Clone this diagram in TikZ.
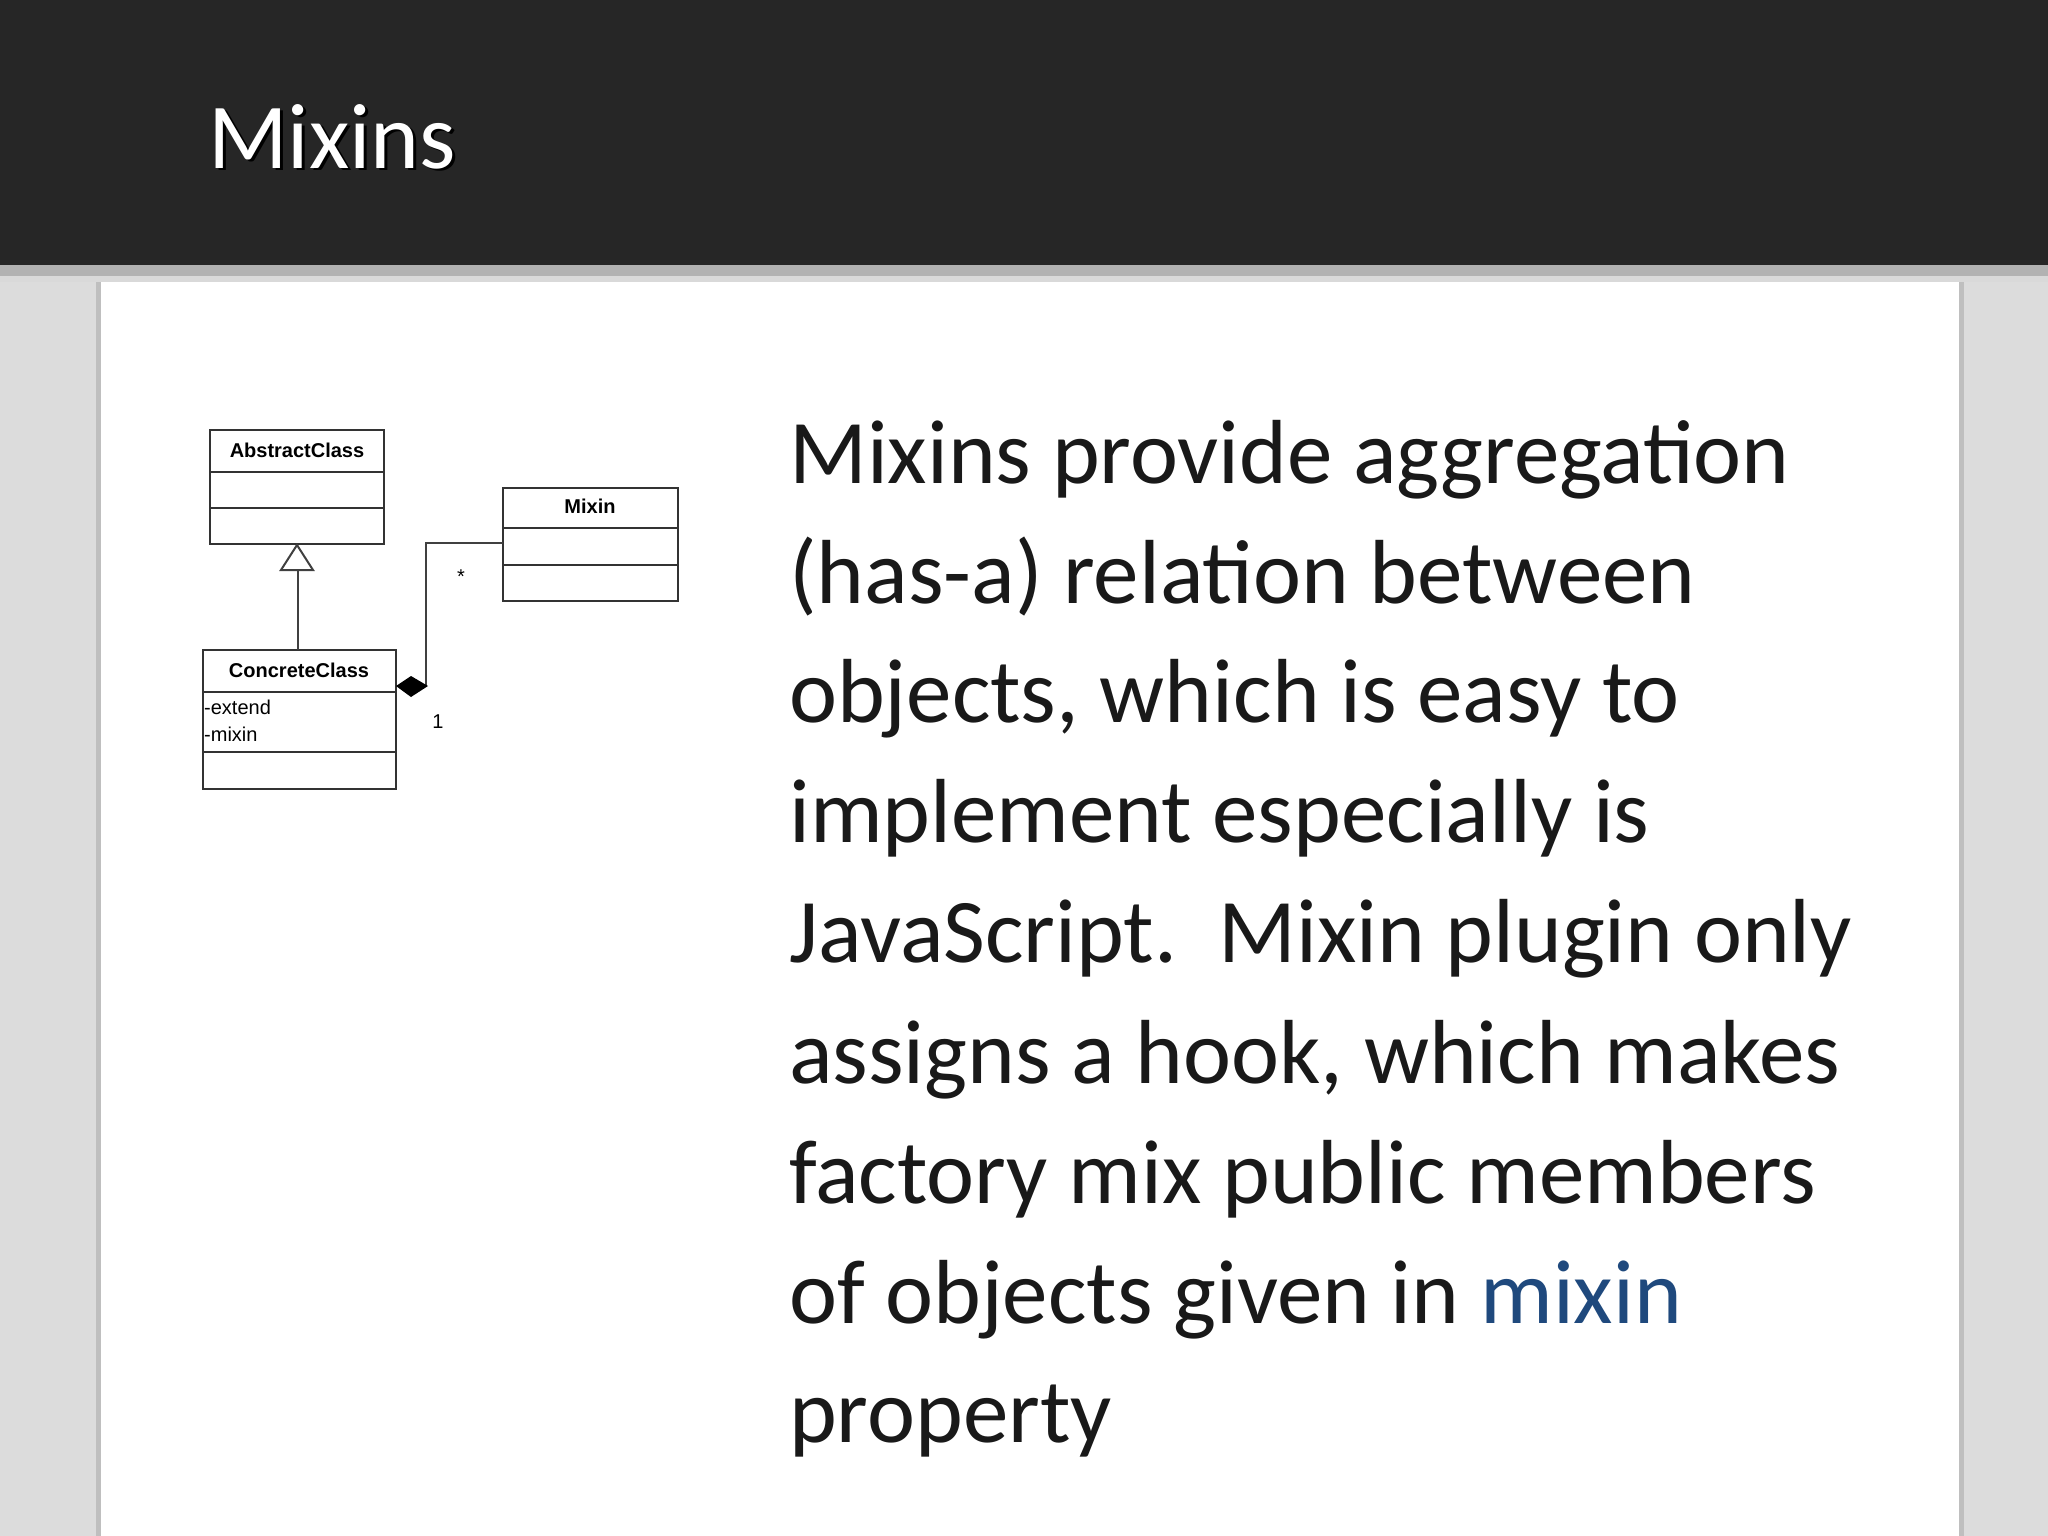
\documentclass[tikz,border=0pt]{standalone}
\usepackage{fontspec}
\setmainfont{Carlito}
\newfontfamily\umlfont{Liberation Sans}
\definecolor{hdr}{HTML}{262626}
\definecolor{bg}{HTML}{DCDCDC}
\definecolor{linkblue}{HTML}{1F497D}
\begin{document}
\begin{tikzpicture}[x=1pt,y=-1pt,
  body/.style={anchor=base west,inner sep=0,font=\fontsize{91}{100}\selectfont,text=black!90},
  umlbox/.style={draw=black!80,line width=2.2pt},
  umlt/.style={font=\umlfont\bfseries\fontsize{20}{22}\selectfont,inner sep=0},
  umla/.style={font=\umlfont\fontsize{20}{22}\selectfont,inner sep=0,anchor=west},
  conn/.style={draw=black!75,line width=2.2pt}]
\useasboundingbox (0,0) rectangle (2048,1536);
\fill[bg] (0,0) rectangle (2048,1536);
\fill[black!25] (96,265) rectangle (1964,1536);
\fill[white] (101,265) rectangle (1959,1536);
\fill[black!30] (0,262) rectangle (2048,276);
\fill[black!15] (0,276) rectangle (2048,282);
\fill[hdr] (0,0) rectangle (2048,265);
\node[anchor=base west,inner sep=0,font=\fontsize{93}{100}\selectfont,text=black] at (211,171) {Mixins};
\node[anchor=base west,inner sep=0,font=\fontsize{93}{100}\selectfont,text=white] (title) at (208,168) {Mixins};
% UML
\draw[umlbox] (210,430) rectangle (384,544);
\draw[umlbox] (210,472) -- (384,472) (210,508) -- (384,508);
\node[umlt] (abs) at (297,450) {AbstractClass};
\draw[umlbox] (503,488) rectangle (678,601);
\draw[umlbox] (503,528) -- (678,528) (503,565) -- (678,565);
\node[umlt] (mix) at (590,506) {Mixin};
\draw[umlbox] (203,650) rectangle (396,789);
\draw[umlbox] (203,692) -- (396,692) (203,752) -- (396,752);
\node[umlt] (con) at (299,670) {ConcreteClass};
\node[umla] (ext) at (204,707) {-extend};
\node[umla] (mxn) at (204,734) {-mixin};
\coordinate (triTop) at (297,545);
\coordinate (triBot) at (298,650);
\draw[conn] (298,570) -- (triBot);
\draw[draw=black!75,line width=2pt,fill=white] (triTop) -- (313,570) -- (281,570) -- cycle;
\coordinate (mixL) at (503,543);
\coordinate (dia) at (426,686);
\draw[conn] (mixL) -- (426,543) -- (dia);
\fill[black] (396,686) -- (411,676) -- (428,686) -- (411,697) -- cycle;
\node[umla,anchor=center] (star) at (461,577) {*};
\node[umla,anchor=center] (one) at (438,722) {1};
% body text
\node[body] (l1) at (789,483) {Mixins provide aggregation};
\node[body] (l2) at (789,603) {(has-a) relation between};
\node[body] (l3) at (789,722) {objects, which is easy to};
\node[body] (l4) at (789,842) {implement especially is};
\node[body] (l5) at (789,962) {JavaScript.\ \ Mixin plugin only};
\node[body] (l6) at (789,1083) {assigns a hook, which makes};
\node[body] (l7) at (789,1203) {factory mix public members};
\node[body] (l8) at (789,1323) {of objects given in \textcolor{linkblue}{mixin}};
\node[body] (l9) at (789,1442) {property};
\end{tikzpicture}
\end{document}
